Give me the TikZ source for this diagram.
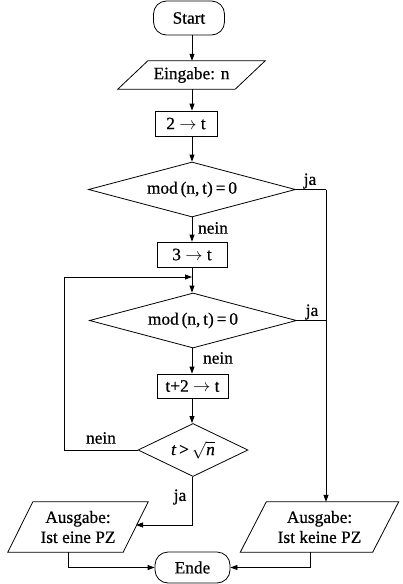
\documentclass[tikz,border=0pt]{standalone}
\usepackage{fontspec}
\setmainfont{Liberation Serif}[FakeBold=0.6,BoldFont={Liberation Serif}]
\usetikzlibrary{shapes.geometric,arrows.meta}
\begin{document}
\begin{tikzpicture}[x=1pt,y=-1pt,
  every node/.style={font=\fontsize{17.3}{20}\selectfont},
  line/.style={line width=0.8pt},
  arr/.style={line width=0.8pt,-{Triangle[length=7pt,width=5pt]}},
  term/.style={draw,line width=0.8pt,rounded corners=13pt,inner sep=0pt},
  procbox/.style={draw,line width=0.8pt,inner sep=0pt},
  iobody/.style={inner sep=0pt,align=center},
  decide/.style={draw,line width=0.8pt,diamond,inner sep=0pt},
  lab/.style={inner sep=0pt}]
\useasboundingbox (0,0) rectangle (402,584);

\node[term,minimum width=71pt,minimum height=34pt] (start) at (189,18) {Start};
\node[iobody,minimum width=117pt,minimum height=28pt] (ein) at (191.5,75) {Eingabe: n};
\draw[line] ([xshift=15pt]ein.north west) -- ([xshift=15pt]ein.north east)
  -- ([xshift=-15pt]ein.south east) -- ([xshift=-15pt]ein.south west) -- cycle;
\node[procbox,minimum width=62pt,minimum height=25pt] (s1) at (186,123.5) {2 $\rightarrow$ t};
\node[decide,shape aspect=3.76,minimum width=207pt,minimum height=55pt] (d1) at (192,189.5) {mod\,(n,\,t)\,=\,0};
\node[procbox,minimum width=70pt,minimum height=25pt] (s2) at (192,254.5) {3 $\rightarrow$ t};
\node[decide,shape aspect=3.76,minimum width=207pt,minimum height=55pt] (d2) at (193,320.5) {mod\,(n,\,t)\,=\,0};
\node[procbox,minimum width=71pt,minimum height=24pt] (s3) at (192.5,386) {t+2 $\rightarrow$ t};
\node[decide,shape aspect=2.08,minimum width=110pt,minimum height=53pt] (d3) at (193,450) {\textit{t}\,>\,$\sqrt{\mbox{\textit{n}}}$};

\node[iobody,minimum width=115pt,minimum height=50pt] (outa) at (78,527) {Ausgabe:\\Ist eine PZ};
\draw[line] ([xshift=12.5pt]outa.north west) -- ([xshift=12.5pt]outa.north east)
  -- ([xshift=-12.5pt]outa.south east) -- ([xshift=-12.5pt]outa.south west) -- cycle;
\node[iobody,minimum width=132pt,minimum height=50pt] (outb) at (319.5,527) {Ausgabe:\\Ist keine PZ};
\draw[line] ([xshift=13pt]outb.north west) -- ([xshift=13pt]outb.north east)
  -- ([xshift=-13pt]outb.south east) -- ([xshift=-13pt]outb.south west) -- cycle;
\node[term,minimum width=75pt,minimum height=31pt] (ende) at (192.5,567.5) {Ende};

\coordinate (col) at (192,0);
\coordinate (join) at (192,277);
\coordinate (loopx) at (64,0);
\coordinate (rightx) at (326,0);
\coordinate (d1r) at (d1.east -| rightx);
\coordinate (d3b) at (192,525);
\coordinate (outaarr) at (136,525);
\coordinate (outbtop) at (outb.north -| rightx);
\coordinate (ea) at (68,0);
\coordinate (eb) at (310,0);

\draw[arr] (start.south -| col) -- (ein.north -| col);
\draw[arr] (ein.south -| col) -- (s1.north -| col);
\draw[arr] (s1.south -| col) -- (d1.north);
\draw[arr] (d1.south) -- (s2.north -| d1.south);
\draw[line] (s2.south -| col) -- (join);
\draw[arr] (join) -- (d2.north -| col);
\draw[arr] (d2.south -| col) -- (s3.north -| col);
\draw[arr] (s3.south -| col) -- (d3.north -| col);
\draw[arr] (d3.west) -- (d3.west -| loopx) -- (join -| loopx) -- (join);
\draw[arr] (d3.south -| col) -- (d3b) -- (outaarr);
\draw[line] (d1.east) -- (d1r);
\draw[line] (d2.east) -- (d2.east -| rightx);
\draw[arr] (d1r) -- (outbtop);
\draw[arr] (outa.south -| ea) -- (ende.west -| ea) -- (ende.west);
\draw[arr] (outb.south -| eb) -- (ende.east -| eb) -- (ende.east);

\node[lab] (l1) at (310,181) {ja};
\node[lab] (l2) at (213,228) {nein};
\node[lab] (l3) at (312,312) {ja};
\node[lab] (l4) at (218,358) {nein};
\node[lab] (l5) at (101,438) {nein};
\node[lab] (l6) at (180,497) {ja};
\end{tikzpicture}
\end{document}
